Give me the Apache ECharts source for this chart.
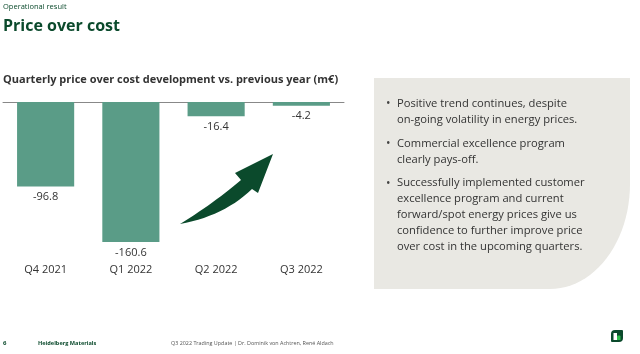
<!DOCTYPE html>
<html>
<head>
<meta charset="utf-8">
<script src="https://cdn.jsdelivr.net/npm/echarts@6/dist/echarts.min.js"></script>
<style>
  html, body { margin: 0; padding: 0; background: #fff; }
  #chart { width: 640px; height: 354px; }
</style>
</head>
<body>
<div id="chart"></div>
<script>
// quarters and price over cost (m€)
var quarters = ['Q4 2021', 'Q1 2022', 'Q2 2022', 'Q3 2022']
var priceOverCost = [-96.8, -160.6, -16.4, -4.2]

var bullets = [
  ['Positive trend continues, despite', 'on-going volatility in energy prices.'],
  ['Commercial excellence program', 'clearly pays-off.'],
  ['Successfully implemented customer', 'excellence program and current', 'forward/spot energy prices give us', 'confidence to further improve price', 'over cost in the upcoming quarters.']
]

var font = 'Open Sans'
var dark = '#0b4a2c'

var chart = echarts.init(document.getElementById('chart'), null, { renderer: 'canvas' })

// quadratic curve -> points (for the arrow outline)
function quad(p0, c, p1, n) {
  var pts = []
  for (var i = 0; i <= n; i++) {
    var t = i / n, u = 1 - t
    pts.push([u * u * p0[0] + 2 * u * t * c[0] + t * t * p1[0], u * u * p0[1] + 2 * u * t * c[1] + t * t * p1[1]])
  }
  return pts
}
var arrowPts = quad([180, 224], [214, 203], [241, 180], 14)
  .concat([[235, 173], [273, 154], [258, 193]])
  .concat(quad([252, 189], [224, 216], [180, 224], 14))

// panel: rect with a big elliptical bottom-right corner
var px0 = 374, py0 = 78, px1 = 630, py1 = 289, rx = 80, ry = 105
var panelPts = [[px0, py0], [px1, py0], [px1, py1 - ry]]
for (var i = 1; i < 24; i++) {
  var a = (i / 24) * Math.PI / 2
  panelPts.push([px1 - rx + rx * Math.cos(a), py1 - ry + ry * Math.sin(a)])
}
panelPts.push([px1 - rx, py1], [px0, py1])

// bullet texts in the grey panel
var panelText = []
var y = 104
bullets.forEach(function (lines) {
  panelText.push({
    type: 'text', x: 386, y: y, style: { text: '•', font: '12px "' + font + '"', fill: '#444', verticalAlign: 'middle' }
  })
  lines.forEach(function (l) {
    panelText.push({
      type: 'text', x: 397, y: y,
      style: { text: l, font: '11.2px "' + font + '"', fill: '#333', verticalAlign: 'middle' }
    })
    y += 15.8
  })
  y += 8
})

chart.setOption({
  animation: false,
  title: [
    { text: 'Operational result', left: 3, top: 3, padding: 0,
      textStyle: { fontFamily: font, fontSize: 7.5, fontWeight: 'normal', color: dark } },
    { text: 'Price over cost', left: 3, top: 18, padding: 0,
      textStyle: { fontFamily: font, fontSize: 16, fontWeight: 'bold', color: dark } },
    { text: 'Quarterly price over cost development vs. previous year (m€)', left: 3, top: 74, padding: 0,
      textStyle: { fontFamily: font, fontSize: 11, fontWeight: 'bold', color: '#333' } }
  ],
  grid: { left: 3, right: 296, top: 102, height: 157 },
  xAxis: [
    {
      type: 'category', data: quarters, position: 'top',
      axisLine: { onZero: false, lineStyle: { color: '#888', width: 1 } },
      axisTick: { show: false }, axisLabel: { show: false }
    },
    {
      type: 'category', data: quarters, position: 'bottom',
      axisLine: { show: false, onZero: false }, axisTick: { show: false },
      axisLabel: { margin: 5, fontFamily: font, fontSize: 11, color: '#333' }
    }
  ],
  yAxis: { type: 'value', min: -180, max: 0, show: false, splitLine: { show: false } },
  series: [{
    type: 'bar', xAxisIndex: 0, data: priceOverCost, barWidth: '67%',
    itemStyle: { color: '#5a9c87' },
    label: {
      show: true, position: 'outside', distance: 5,
      fontFamily: font, fontSize: 11, color: '#333'
    }
  }],
  graphic: [
    // trend arrow
    { type: 'polygon', shape: { points: arrowPts }, style: { fill: dark } },
    // grey panel
    { type: 'polygon', shape: { points: panelPts }, style: { fill: '#e9e8e3' }, z: -1 }
  ].concat(panelText).concat([
    { type: 'text', x: 3, y: 343, style: { text: '6', font: 'bold 6px "' + font + '"', fill: dark, verticalAlign: 'middle' } },
    { type: 'text', x: 38, y: 343, style: { text: 'Heidelberg Materials', font: 'bold 5.6px "' + font + '"', fill: dark, verticalAlign: 'middle' } },
    { type: 'text', x: 171, y: 343, style: { text: 'Q3 2022 Trading Update | Dr. Dominik von Achtren, René Aldach', font: '5.4px "' + font + '"', fill: '#555', verticalAlign: 'middle' } },
    // logo
    { type: 'rect', shape: { x: 611, y: 330, width: 12, height: 12, r: [4, 1, 4, 1] }, style: { fill: dark } },
    { type: 'rect', shape: { x: 613.5, y: 333, width: 3.5, height: 7 }, style: { fill: '#ffffff' } },
    { type: 'rect', shape: { x: 617, y: 335.5, width: 3.5, height: 4.5, r: [1, 1, 0, 0] }, style: { fill: '#2bbf4a' } }
  ])
})
</script>
</body>
</html>
